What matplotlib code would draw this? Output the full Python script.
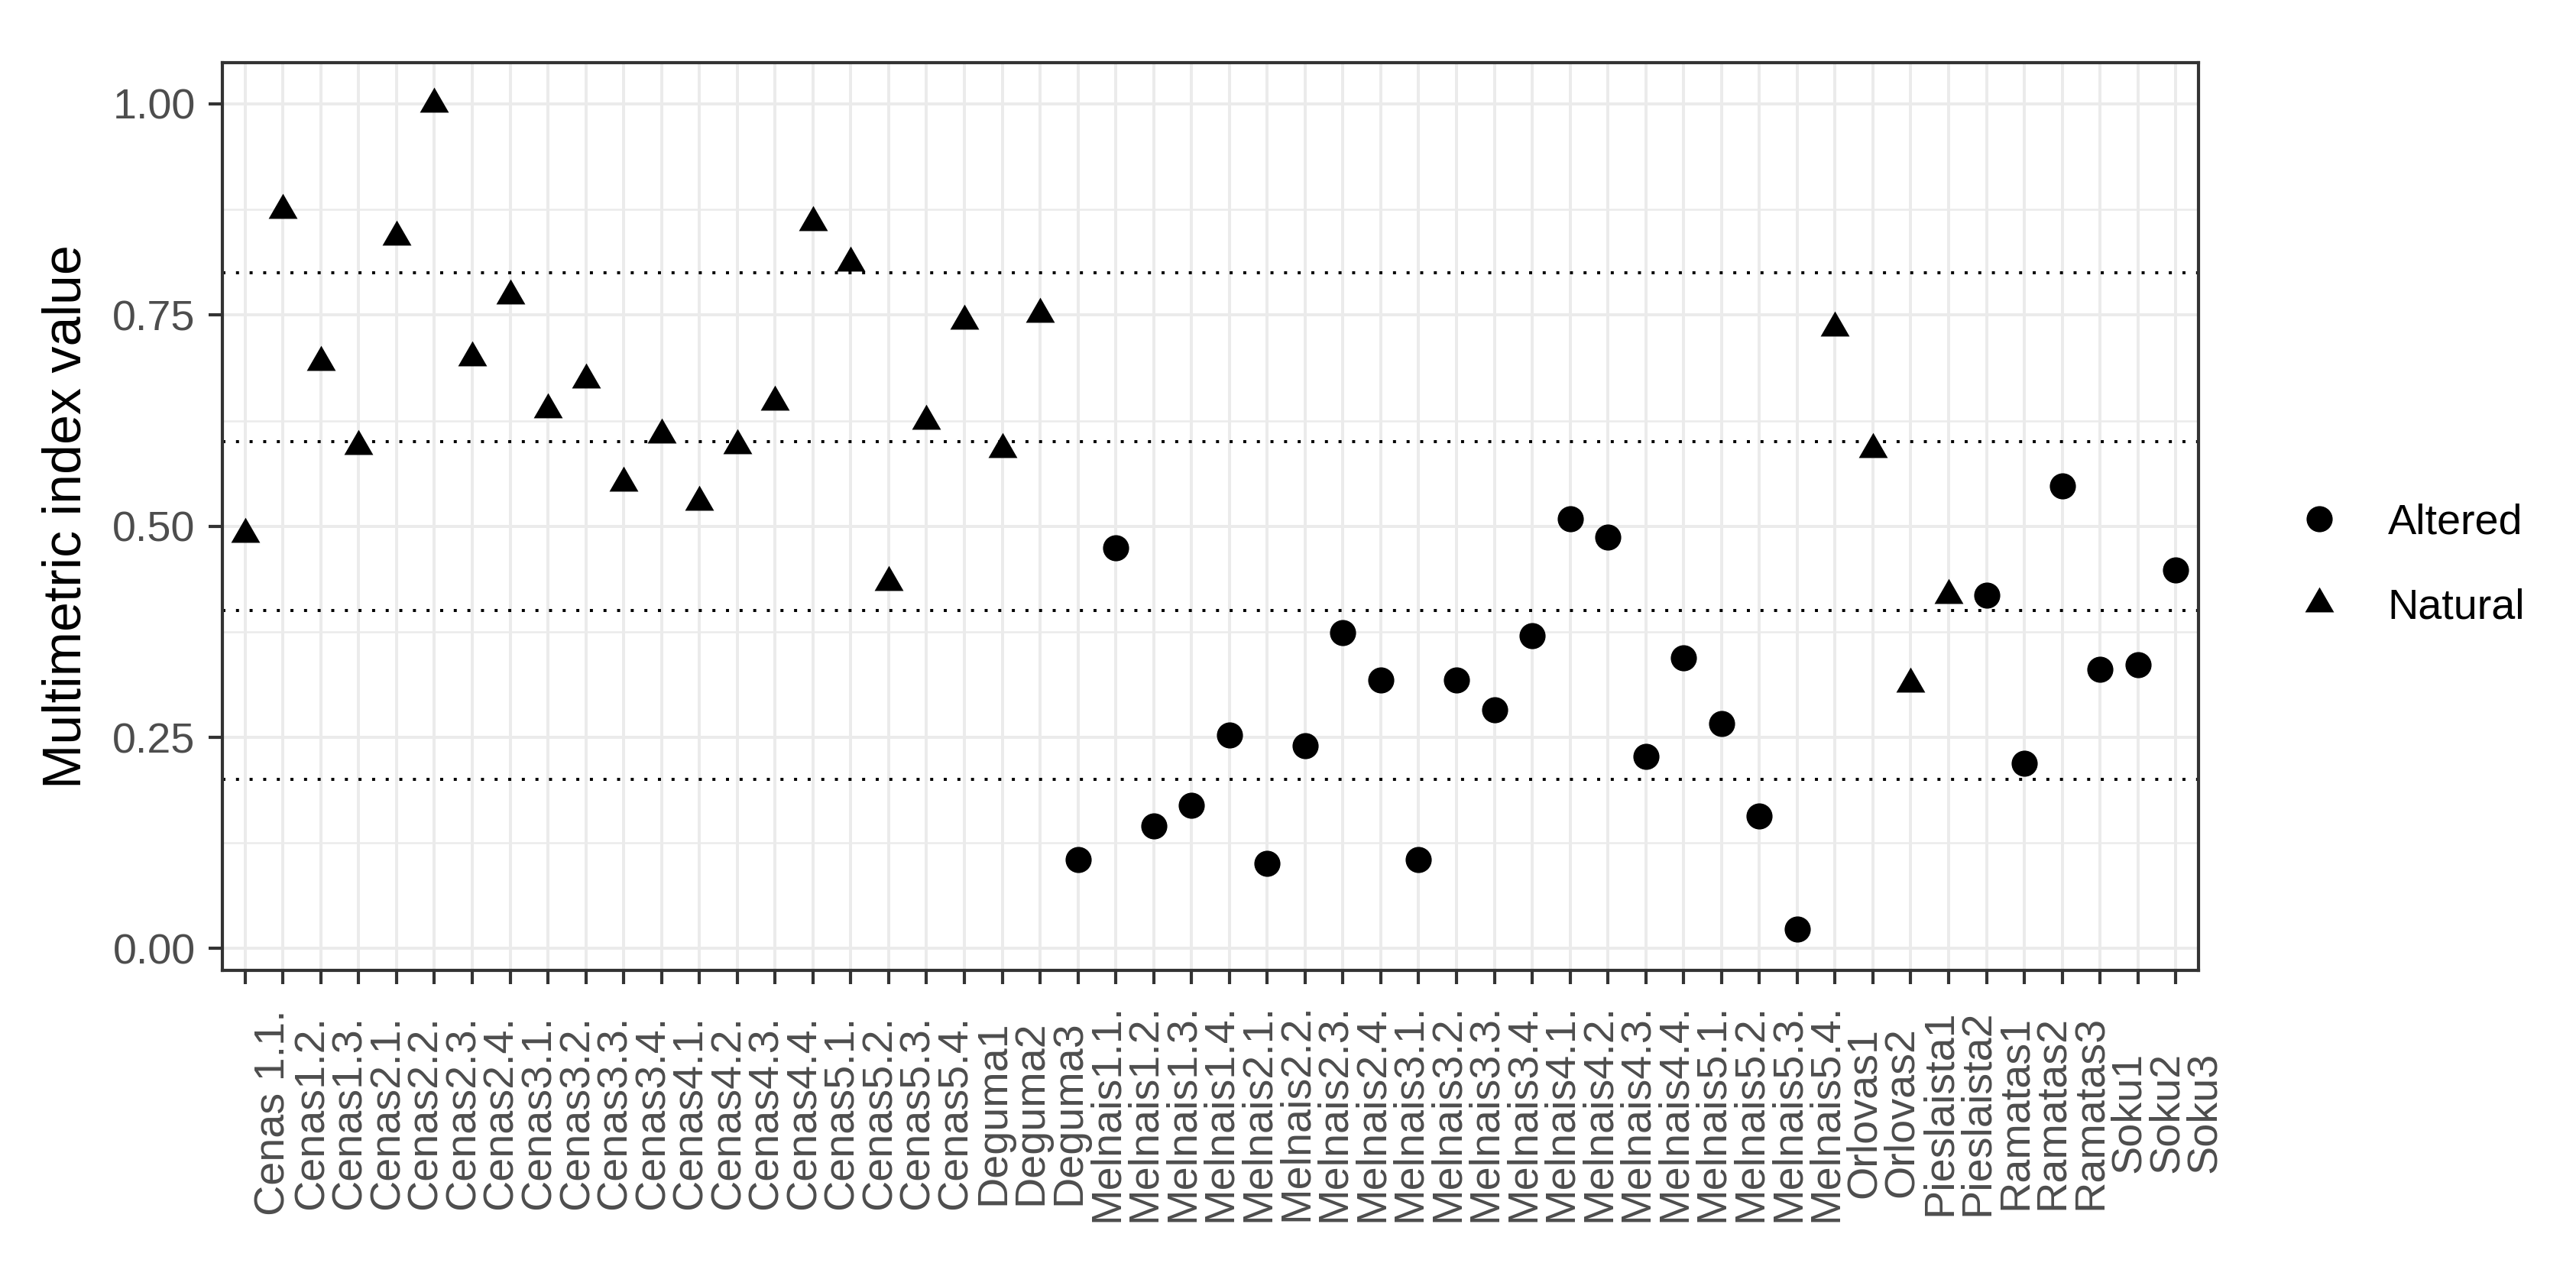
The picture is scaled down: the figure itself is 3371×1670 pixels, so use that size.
import numpy as np
import matplotlib
matplotlib.use("Agg")
import matplotlib.pyplot as plt
from matplotlib.transforms import blended_transform_factory, ScaledTranslation
from matplotlib.lines import Line2D

plt.rcParams["font.family"] = ["Liberation Sans", "DejaVu Sans"]

# Data

sites = [
    "Cenas 1.1.", "Cenas1.2.", "Cenas1.3.", "Cenas2.1.", "Cenas2.2.", "Cenas2.3.",
    "Cenas2.4.", "Cenas3.1.", "Cenas3.2.", "Cenas3.3.", "Cenas3.4.", "Cenas4.1.",
    "Cenas4.2.", "Cenas4.3.", "Cenas4.4.", "Cenas5.1.", "Cenas5.2.", "Cenas5.3.",
    "Cenas5.4.", "Deguma1", "Deguma2", "Deguma3",
    "Melnais1.1.", "Melnais1.2.", "Melnais1.3.", "Melnais1.4.",
    "Melnais2.1.", "Melnais2.2.", "Melnais2.3.", "Melnais2.4.",
    "Melnais3.1.", "Melnais3.2.", "Melnais3.3.", "Melnais3.4.",
    "Melnais4.1.", "Melnais4.2.", "Melnais4.3.", "Melnais4.4.",
    "Melnais5.1.", "Melnais5.2.", "Melnais5.3.", "Melnais5.4.",
    "Orlovas1", "Orlovas2", "Pieslaista1", "Pieslaista2",
    "Ramatas1", "Ramatas2", "Ramatas3", "Soku1", "Soku2", "Soku3",
]

index_value = [
    0.491, 0.874, 0.694, 0.595, 0.843, 1.000, 0.700, 0.773, 0.638, 0.673,
    0.551, 0.608, 0.529, 0.596, 0.647, 0.860, 0.812, 0.434, 0.625,
    0.743, 0.591, 0.751,
    0.105, 0.474, 0.145, 0.170, 0.253, 0.101, 0.240, 0.374, 0.318, 0.105,
    0.318, 0.283, 0.370, 0.509, 0.487, 0.227, 0.344, 0.266, 0.157, 0.023,
    0.735, 0.591, 0.313, 0.418,
    0.418, 0.219, 0.548, 0.331, 0.336, 0.448,
]

status = (["Natural"] * 22 + ["Altered"] * 20 + ["Natural"] * 4
          + ["Altered"] * 6)

class_bounds = [0.2, 0.4, 0.6, 0.8]
y_ticks = [0.0, 0.25, 0.5, 0.75, 1.0]
y_minor = [0.125, 0.375, 0.625, 0.875]

# ============================================================
# Figure layout (pixels of the 3371 x 1670 output)
# ============================================================

W, H, DPI = 3371, 1670, 300
fig = plt.figure(figsize=(W / DPI, H / DPI), dpi=DPI)
fig.patch.set_facecolor("white")

left, right, top, bottom = 291, 2877, 82, 1270
ax = fig.add_axes([left / W, 1 - bottom / H, (right - left) / W, (bottom - top) / H])

x = np.arange(len(sites))
vals = np.array(index_value)
stat = np.array(status)

# ggplot style expansion
ax.set_xlim(-0.6, len(sites) - 1 + 0.6)
rng = vals.max() - vals.min()
ax.set_ylim(vals.min() - 0.05 * rng, vals.max() + 0.05 * rng)

GRID = "#EBEBEB"
DARK = "#333333"

# grid
ax.set_xticks(x)
ax.set_yticks(y_ticks)
ax.set_yticks(y_minor, minor=True)
ax.grid(True, which="major", color=GRID, linewidth=0.95)
ax.grid(True, which="minor", axis="y", color=GRID, linewidth=0.6)
ax.set_axisbelow(True)

# dotted class boundaries
for b in class_bounds:
    ax.axhline(b, color="black", linewidth=0.95, linestyle=(0, (1, 3.5)), zorder=2)

# points: triangle centred on its centroid like R's pch 17
tri = [(0, 1), (-0.866, -0.5), (0.866, -0.5), (0, 1)]
alt = stat == "Altered"
nat = stat == "Natural"
ax.plot(x[alt], vals[alt], linestyle="none", marker="o", markersize=8.2,
        color="black", markeredgewidth=0, zorder=3)
ax.plot(x[nat], vals[nat], linestyle="none", marker=tri, markersize=10.5,
        color="black", markeredgewidth=0, zorder=3)

# spines / ticks
for s in ax.spines.values():
    s.set_color(DARK)
    s.set_linewidth(1.0)

ax.tick_params(axis="both", which="major", length=4.3, width=1.0, color=DARK,
               labelsize=13.4, labelcolor="#4D4D4D")
ax.tick_params(axis="y", which="minor", length=0)
ax.tick_params(axis="y", pad=4.2)
ax.set_yticklabels([f"{v:.2f}" for v in y_ticks])

# x labels: vertically centred in the label band, like ggplot angle = 90
ax.set_xticklabels([])
band_centre = (bottom - 1456) / (bottom - top)
trans = blended_transform_factory(ax.transData, ax.transAxes) + \
    ScaledTranslation(2.9 / 72, 0, fig.dpi_scale_trans)
for xi, lab in zip(x, sites):
    ax.text(xi, band_centre, lab, transform=trans, rotation=90,
            ha="left", va="center", fontsize=13.4, color="#4D4D4D",
            clip_on=False)

ax.set_ylabel("Multimetric index value", fontsize=16.8, color="black", va="center")
ax.yaxis.set_label_coords((88 - left) / (right - left), 0.5)

# legend
handles = [
    Line2D([], [], linestyle="none", marker="o", markersize=8.2,
           color="black", markeredgewidth=0, label="Altered"),
    Line2D([], [], linestyle="none", marker=tri, markersize=10.5,
           color="black", markeredgewidth=0, label="Natural"),
]
fig.legend(handles=handles, loc="center left", bbox_to_anchor=(2990 / W, 1 - 740 / H),
           frameon=False, fontsize=13.4, handlelength=1.6, handletextpad=0.81,
           labelspacing=1.05, borderpad=0, borderaxespad=0, numpoints=1)

fig.savefig("out.png", dpi=DPI, facecolor="white")
